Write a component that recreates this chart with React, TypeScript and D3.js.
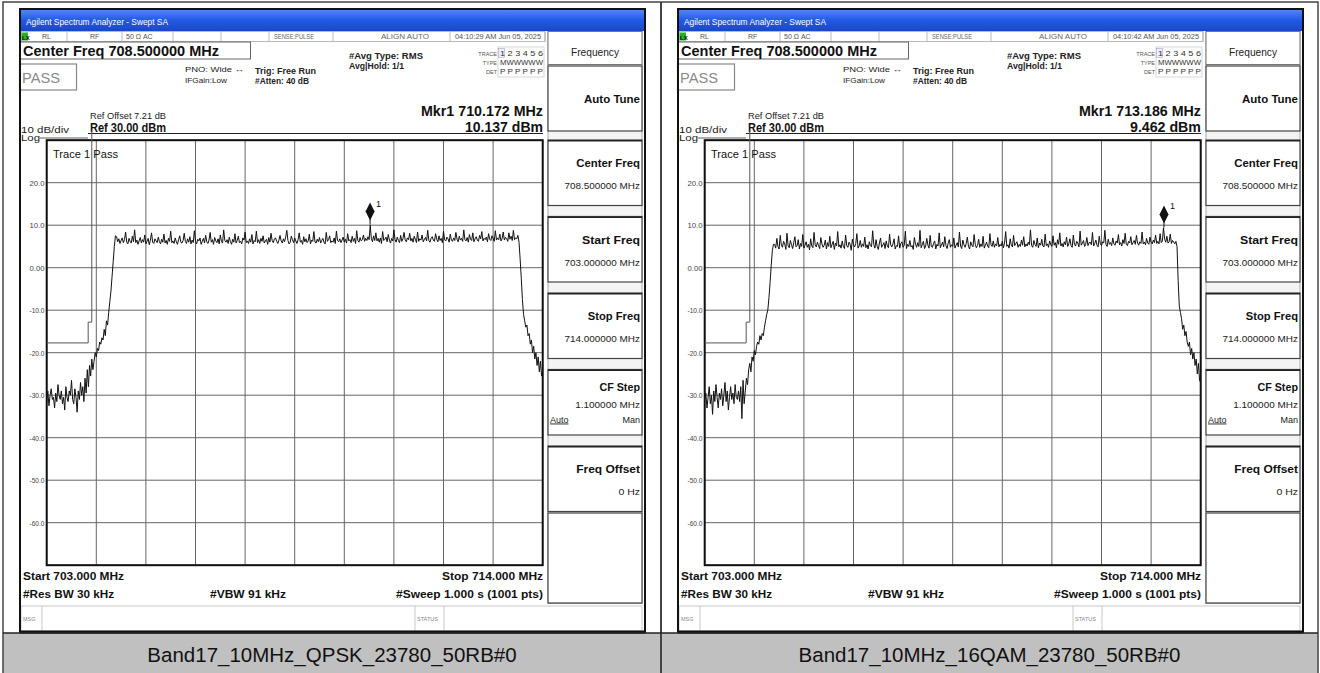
import React from "react";
import * as d3 from "d3";

const captions = ["Band17_10MHz_QPSK_23780_50RB#0", "Band17_10MHz_16QAM_23780_50RB#0"];
const timestamps = ["04:10:29 AM Jun 05, 2025", "04:10:42 AM Jun 05, 2025"];
const markerFreqLabels = ["Mkr1 710.172 MHz", "Mkr1 713.186 MHz"];
const markerLevelLabels = ["10.137 dBm", "9.462 dBm"];
const markerFreqs = [710.172, 713.186];
const markerLevels = [10.137, 9.462];
const startFreq = 703;
const stopFreq = 714;
const refLevel = 30;
const bottomLevel = -70;
const yTickValues = [20, 10, 0, -10, -20, -30, -40, -50, -60];
const yTickLabels = ["20.0", "10.0", "0.00", "-10.0", "-20.0", "-30.0", "-40.0", "-50.0", "-60.0"];
const limitFreqs = [703, 703.92, 703.92, 704.0, 704.0];
const limitLevels = [-17.7, -17.7, -12.8, -12.8, 32.2];
const softkeyLabels = ["Center Freq", "Start Freq", "Stop Freq", "CF Step", "Freq Offset"];
const softkeyValues = ["708.500000 MHz", "703.000000 MHz", "714.000000 MHz", "1.100000 MHz", "0 Hz"];

// QPSK trace, 441 sweep points (703.000 .. 714.000 MHz), dBm
const qpskTrace = [
  -31.5, -29.0, -32.5, -30.0, -28.5, -31.0, -30.5, -33.0, -29.5, -31.5, -27.5, -30.0, -31.0, -29.0, -32.0, -30.5, -33.5, -28.0,
  -30.5, -31.5, -29.0, -30.0, -26.5, -31.0, -32.0, -28.5, -30.5, -34.0, -29.0, -31.0, -27.0, -30.0, -28.0, -31.5, -26.0, -29.5,
  -24.0, -28.0, -23.0, -25.5, -21.5, -24.0, -22.0, -20.0, -21.0, -19.0, -19.5, -17.5, -18.0, -16.5, -17.0, -14.5, -16.0, -12.5,
  -13.5, -10.5, -8.0, -5.5, -2.0, 1.5, 5.0, 7.5,
  7.3, 6.1, 6.8, 5.7, 6.4, 7.0, 5.9, 6.6, 8.4, 6.0, 5.6, 6.9, 6.2, 5.8, 7.4, 6.1, 8.9, 5.9, 6.5, 5.5,
  6.3, 7.1, 5.8, 6.6, 6.0, 7.7, 5.6, 6.2, 6.9, 5.4, 6.5, 8.2, 6.0, 5.7, 6.8, 6.3, 5.9, 7.2, 6.1, 5.6,
  6.7, 6.0, 7.9, 5.8, 6.4, 5.5, 6.9, 6.2, 8.6, 5.9, 6.3, 5.7, 7.0, 6.1, 5.5, 6.6, 7.5, 6.0, 5.8, 6.4,
  8.1, 6.2, 5.7, 6.8, 6.0, 7.3, 5.6, 6.5, 5.9, 8.7, 6.1, 5.6, 6.7, 6.3, 7.0, 5.5, 6.2, 6.9, 5.8, 7.6,
  6.1, 5.7, 6.5, 8.3, 6.0, 6.6, 5.5, 7.1, 6.3, 5.9, 6.8, 5.6, 7.7, 6.2, 5.8, 8.9, 6.4, 6.0, 6.6, 5.7,
  7.2, 6.1, 5.5, 6.7, 6.0, 8.0, 5.8, 6.4, 7.4, 5.9, 6.2, 5.6, 7.0, 6.5, 8.4, 5.9, 6.3, 5.7, 6.8, 6.0,
  7.8, 5.6, 6.4, 6.1, 8.6, 5.9, 6.6, 5.7, 6.9, 6.2, 7.5, 5.8, 6.3, 6.7, 5.5, 7.1, 6.0, 8.1, 6.4, 5.9,
  6.8, 7.0, 6.2, 5.7, 6.5, 7.6, 6.3, 5.8, 6.8, 6.1, 7.2, 8.8, 6.4, 5.6, 6.0, 7.4, 6.6, 5.9, 7.0, 6.3,
  5.7, 6.6, 8.2, 6.0, 6.4, 5.5, 7.3, 6.1, 6.8, 5.9, 6.3, 7.9, 5.6, 6.5, 6.2, 8.5, 6.0, 5.8, 6.7, 6.1,
  7.1, 5.8, 6.4, 6.9, 6.0, 5.6, 8.3, 6.2, 6.6, 7.5, 5.9, 6.3, 6.0, 7.0, 5.7, 8.6, 6.4, 6.1, 6.8, 5.9,
  6.5, 7.2, 6.0, 6.7, 5.8, 8.0, 6.3, 6.6, 5.9, 7.4, 6.2, 6.9, 5.7, 8.7, 6.4, 6.0, 7.1, 6.3, 6.6, 7.7,
  6.2, 6.9, 6.4, 7.3, 6.6, 10.0, 6.8, 6.1, 7.5, 6.4, 8.2, 6.3, 6.9, 6.0, 7.0, 5.7, 8.5, 6.4, 6.7, 7.2,
  6.1, 7.8, 6.5, 5.8, 6.9, 6.3, 8.9, 6.6, 6.0, 7.2, 6.4, 5.9, 7.6, 6.2, 6.8, 8.3, 6.5, 6.1, 7.0, 6.6,
  8.1, 6.3, 6.9, 6.0, 7.4, 6.7, 5.9, 8.4, 6.2, 6.8, 6.5, 7.7, 6.1, 6.6, 7.1, 6.3, 8.8, 6.4, 6.0, 6.9,
  7.3, 6.5, 6.2, 8.0, 6.7, 6.1, 7.5, 6.4, 6.9, 5.9, 8.6, 6.6, 6.3, 7.2, 6.8, 6.0, 7.9, 6.5, 6.2, 7.0,
  6.4, 8.3, 6.7, 6.1, 7.4, 6.5, 6.9, 6.2, 8.9, 6.6, 6.3, 7.1, 6.0, 7.8, 6.7, 6.4, 8.2, 6.1, 6.8, 7.3,
  6.5, 6.2, 7.6, 6.8, 8.5, 6.3, 6.9, 6.6, 7.2, 6.1, 8.0, 6.7, 6.4, 7.5, 6.9, 6.2, 8.7, 6.5, 7.0, 6.6,
  7.9, 6.3, 6.8, 8.4, 6.5, 7.1, 6.9, 6.2, 8.2, 6.7, 7.4, 6.4, 8.8, 6.6, 7.0, 6.8, 7.6,
  6.0, 2.0, -2.5, -7.5, -11.0, -12.5, -14.0, -13.5, -16.0, -15.5, -18.0, -17.0, -20.0, -18.5, -21.5, -20.0,
  -23.0, -21.0, -24.5, -22.0, -25.5, -24.0,
];

// 16QAM trace, 441 sweep points (703.000 .. 714.000 MHz), dBm
const qam16Trace = [
  -31.0, -29.5, -33.0, -30.5, -28.0, -32.0, -30.0, -34.5, -29.0, -31.5, -27.5, -30.5, -33.0, -29.5, -31.0, -28.5, -32.5, -30.0,
  -27.0, -31.5, -29.0, -33.5, -30.5, -28.0, -31.0, -29.5, -32.0, -27.5, -30.5, -31.0, -29.0, -31.5, -28.0, -35.5, -26.5, -32.0,
  -29.0, -26.0, -27.5, -24.0, -22.5, -24.5, -21.0, -22.0, -19.5, -20.5, -18.5, -17.5, -18.0, -16.0, -17.0, -15.5, -16.0, -14.0,
  -12.5, -11.0, -10.0, -7.0, -3.5, 0.5, 4.0, 5.5,
  5.5, 4.6, 6.9, 5.0, 4.4, 7.6, 5.3, 4.8, 6.2, 5.6, 4.3, 8.1, 5.1, 4.7, 6.4, 5.4, 4.5, 5.9, 7.3, 4.9,
  5.2, 6.6, 4.4, 5.7, 5.0, 7.8, 4.6, 5.3, 6.1, 4.8, 5.5, 4.2, 6.8, 5.1, 4.7, 8.3, 5.4, 4.9, 6.0, 5.2,
  4.5, 7.1, 5.6, 4.8, 5.3, 6.5, 4.4, 5.9, 5.0, 7.4, 4.7, 5.5, 6.2, 4.3, 5.8, 5.1, 8.5, 4.9, 5.4, 4.6,
  6.3, 5.0, 4.5, 7.7, 5.2, 4.8, 6.0, 5.5, 4.1, 6.7, 5.3, 4.9, 5.7, 8.0, 4.6, 5.1, 6.4, 4.8, 5.6, 5.0,
  7.2, 4.7, 5.4, 4.4, 6.1, 5.2, 4.9, 8.7, 5.5, 4.6, 6.6, 5.0, 4.3, 5.8, 7.0, 4.8, 5.3, 5.9, 4.5, 6.3,
  5.1, 4.7, 7.9, 5.4, 4.9, 5.6, 6.8, 4.4, 5.2, 5.0, 7.5, 4.6, 5.7, 6.1, 4.8, 5.3, 8.6, 4.5, 5.5, 5.0,
  6.4, 4.9, 5.2, 4.3, 7.1, 5.6, 4.8, 5.9, 5.0, 8.8, 4.7, 5.4, 6.2, 4.5, 5.1, 6.9, 5.3, 4.6, 7.6, 5.0,
  4.8, 5.7, 6.3, 4.4, 5.5, 5.1, 8.2, 4.7, 5.3, 6.0, 4.9, 7.3, 5.2, 4.5, 5.8, 6.6, 4.8, 5.4, 5.0, 7.0,
  4.6, 5.3, 5.9, 4.9, 8.4, 5.1, 4.5, 6.5, 5.4, 4.8, 5.7, 7.2, 5.0, 4.4, 6.1, 5.3, 4.9, 7.8, 5.5, 4.7,
  5.2, 6.7, 4.8, 5.6, 5.0, 7.4, 4.6, 5.3, 6.0, 5.1, 4.7, 8.0, 5.4, 5.0, 6.3, 4.8, 5.6, 5.2, 7.1, 4.9,
  5.5, 5.1, 6.2, 4.7, 5.8, 8.5, 5.0, 5.4, 4.6, 6.8, 5.3, 4.9, 7.6, 5.2, 5.7, 6.1, 4.8, 5.5, 5.0, 6.5,
  5.3, 7.3, 4.9, 5.6, 5.1, 6.0, 5.4, 8.9, 5.2, 4.8, 6.4, 5.5, 5.0, 7.0, 4.7, 5.8, 5.3, 6.7, 5.1, 4.9,
  7.9, 5.2, 5.6, 4.8, 6.3, 5.4, 5.0, 7.5, 5.3, 5.9, 4.7, 6.6, 5.5, 8.2, 5.1, 5.7, 4.9, 6.1, 5.4, 7.2,
  5.0, 5.6, 6.8, 5.2, 4.8, 7.7, 5.5, 5.1, 6.2, 5.8, 4.9, 8.6, 5.3, 5.7, 6.4, 5.0, 5.5, 7.1, 5.2, 5.9,
  6.0, 5.4, 8.3, 5.1, 5.7, 6.5, 5.3, 4.9, 7.4, 5.6, 5.2, 6.1, 5.8, 8.8, 5.4, 5.0, 6.7, 5.5, 5.9, 5.2,
  7.0, 5.6, 5.3, 6.3, 5.8, 7.8, 5.4, 5.9, 5.1, 6.6, 5.7, 8.1, 5.5, 5.2, 6.2, 5.8, 7.3, 5.4, 5.9, 6.4,
  5.5, 7.6, 5.8, 5.3, 6.1, 5.7, 8.4, 5.6, 6.0, 5.4, 6.9, 5.8, 5.5, 7.2, 6.0, 5.6, 6.5, 5.9, 7.7, 5.7,
  6.2, 5.6, 8.0, 5.9, 6.3, 9.4, 6.7, 6.0, 7.4, 5.8, 6.1, 7.9, 5.7, 6.4, 6.0, 5.6, 6.2,
  5.0, -3.0, -9.0, -10.5, -12.0, -14.5, -13.5, -16.0, -15.0, -17.5, -18.5, -17.5, -20.5, -19.0, -21.5, -20.0,
  -23.0, -21.5, -25.0, -22.5, -26.5, -27.0,
];

const traces = [qpskTrace, qam16Trace];

const FONT = "'Liberation Sans Narrow', 'Liberation Sans', Arial, sans-serif";
const CAPFONT = "'Liberation Sans', Arial, sans-serif";

function Panel({ ox, idx }: { ox: number; idx: number }) {
  const trace = traces[idx];
  const pl = 26.7, pr = 522.7, pt = 131.2, pb = 556.2;
  const x = d3.scaleLinear().domain([startFreq, stopFreq]).range([pl, pr]);
  const y = d3.scaleLinear().domain([bottomLevel, refLevel]).range([pb, pt]);
  const n = trace.length;
  const fAt = (k: number) => startFreq + (k * (stopFreq - startFreq)) / (n - 1);
  const tracePath = d3.line<number>().x((_d, k) => x(fAt(k))).y((d) => y(d))(trace) || "";
  const limitPath = d3.line<number>().x((_d, k) => x(limitFreqs[k])).y((d) => y(d))(limitLevels) || "";
  const xGrid = d3.range(0, 11).map((k) => startFreq + (k * (stopFreq - startFreq)) / 10);
  const yGrid = d3.range(bottomLevel, refLevel + 1, 10);
  const mx = x(markerFreqs[idx]);
  const my = y(markerLevels[idx]);
  const gid = `tb${idx}`;
  const statusDividers = [47, 102, 153, 201, 249, 313, 430, 525];
  const keyTop = (k: number) => 131 + k * 76.5;

  return (
    <g transform={`translate(${ox},9)`} fontFamily={FONT}>
      <defs>
        <linearGradient id={gid} x1="0" y1="0" x2="0" y2="1">
          <stop offset="0" stopColor="#4f86f7" />
          <stop offset="0.5" stopColor="#2258e6" />
          <stop offset="1" stopColor="#1a47c9" />
        </linearGradient>
      </defs>
      <rect x={0} y={0} width={625} height={623} fill="#fff" />
      <rect x={1} y={1} width={623} height={21} fill={`url(#${gid})`} />
      <text x={6} y={15.5} fill="#fff" fontSize={9.5} textLength={142} lengthAdjust="spacingAndGlyphs">
        Agilent Spectrum Analyzer - Swept SA
      </text>

      {/* status row */}
      <rect x={1} y={22.5} width={524} height={10} fill="#fff" stroke="#aaa" strokeWidth={0.8} />
      <rect x={1.5} y={23.5} width={6.5} height={8} fill="#22b222" />
      <text x={2} y={30.5} fontSize={6} fill="#111" fontWeight="bold">LX</text>
      {statusDividers.map((d) => (
        <line key={d} x1={d} x2={d} y1={22.5} y2={32.5} stroke="#aaa" strokeWidth={0.8} />
      ))}
      <text x={22} y={30} fontSize={7} fill="#555">RL</text>
      <text x={70} y={30} fontSize={7} fill="#555">RF</text>
      <text x={106} y={30} fontSize={7} fill="#555">50 Ω   AC</text>
      <text x={254} y={30} fontSize={6.5} fill="#666" textLength={40} lengthAdjust="spacingAndGlyphs">SENSE:PULSE</text>
      <text x={361} y={30} fontSize={6.5} fill="#666" textLength={48} lengthAdjust="spacingAndGlyphs">ALIGN AUTO</text>
      <text x={435} y={30} fontSize={6.5} fill="#555" textLength={86} lengthAdjust="spacingAndGlyphs">{timestamps[idx]}</text>

      {/* info area */}
      <rect x={-0.5} y={33} width={231} height={17} fill="#fff" stroke="#666" strokeWidth={1} />
      <text x={3} y={46.5} fontSize={14} fontWeight="bold" fill="#111" textLength={196} lengthAdjust="spacingAndGlyphs">
        Center Freq 708.500000 MHz
      </text>
      <rect x={-0.5} y={55} width={57} height={26} fill="#fff" stroke="#888" strokeWidth={1.2} />
      <text x={2} y={74} fontSize={14} fill="#8a8a8a" textLength={38} lengthAdjust="spacingAndGlyphs">PASS</text>
      <text x={165} y={62.5} fontSize={8} fill="#222" textLength={59} lengthAdjust="spacingAndGlyphs">PNO: Wide ↔</text>
      <text x={165} y={74} fontSize={8} fill="#222" textLength={42} lengthAdjust="spacingAndGlyphs">IFGain:Low</text>
      <text x={235} y={64.5} fontSize={9} fontWeight="bold" fill="#222" textLength={61} lengthAdjust="spacingAndGlyphs">Trig: Free Run</text>
      <text x={235} y={74.5} fontSize={8.5} fontWeight="bold" fill="#222" textLength={54} lengthAdjust="spacingAndGlyphs">#Atten: 40 dB</text>
      <text x={329} y={49.5} fontSize={9} fontWeight="bold" fill="#222" textLength={74} lengthAdjust="spacingAndGlyphs">#Avg Type: RMS</text>
      <text x={329} y={59.5} fontSize={8.5} fontWeight="bold" fill="#222" textLength={55} lengthAdjust="spacingAndGlyphs">Avg|Hold: 1/1</text>
      <rect x={478} y={38} width={46} height={30} fill="none" stroke="#ccc" strokeWidth={0.8} />
      <text x={477} y={47} fontSize={5.5} fill="#555" textAnchor="end">TRACE</text>
      <text x={477} y={56} fontSize={5.5} fill="#555" textAnchor="end">TYPE</text>
      <text x={477} y={65} fontSize={5.5} fill="#555" textAnchor="end">DET</text>
      <rect x={478.5} y={39.5} width={6} height={9} fill="#eef" stroke="#99a" strokeWidth={0.5} />
      <text x={480} y={47} fontSize={8} fill="#333" textLength={43} lengthAdjust="spacingAndGlyphs">1 2 3 4 5 6</text>
      <text x={480} y={56} fontSize={7} fill="#333" textLength={43} lengthAdjust="spacingAndGlyphs">MWWWWW</text>
      <text x={480} y={65} fontSize={7.5} fill="#333" textLength={43} lengthAdjust="spacingAndGlyphs">P P P P P P</text>

      <text x={523} y={106.5} fontSize={15} fontWeight="bold" fill="#111" textAnchor="end" textLength={122} lengthAdjust="spacingAndGlyphs">
        {markerFreqLabels[idx]}
      </text>
      <text x={523} y={122.5} fontSize={15} fontWeight="bold" fill="#111" textAnchor="end" textLength={idx === 0 ? 78 : 71} lengthAdjust="spacingAndGlyphs">
        {markerLevelLabels[idx]}
      </text>
      <text x={70} y={109.5} fontSize={9} fill="#222" textLength={76} lengthAdjust="spacingAndGlyphs">Ref Offset 7.21 dB</text>
      <text x={1} y={123.5} fontSize={9} fill="#222" textLength={48} lengthAdjust="spacingAndGlyphs">10 dB/div</text>
      <text x={70} y={123} fontSize={12.5} fontWeight="bold" fill="#111" textLength={76} lengthAdjust="spacingAndGlyphs">Ref 30.00 dBm</text>
      <line x1={68} x2={523} y1={124.5} y2={124.5} stroke="#222" strokeWidth={1} />
      <text x={1} y={132} fontSize={9} fill="#222" textLength={19} lengthAdjust="spacingAndGlyphs">Log</text>
      <line x1={20} x2={68} y1={129} y2={129} stroke="#333" strokeWidth={0.8} />

      {/* plot grid */}
      {xGrid.map((f, k) => (
        <line key={`x${k}`} x1={x(f)} x2={x(f)} y1={pt} y2={pb} stroke="#666" strokeWidth={1} />
      ))}
      {yGrid.map((v) => (
        <line key={`y${v}`} x1={pl} x2={pr} y1={y(v)} y2={y(v)} stroke="#666" strokeWidth={1} />
      ))}
      <rect x={pl} y={pt} width={pr - pl} height={pb - pt} fill="none" stroke="#111" strokeWidth={2} />
      {yTickValues.map((v, k) => (
        <text key={v} x={24.5} y={y(v) + 3} fontSize={8} fill="#444" textAnchor="end" textLength={15} lengthAdjust="spacingAndGlyphs">
          {yTickLabels[k]}
        </text>
      ))}
      <text x={33} y={148.5} fontSize={10.5} fill="#111" textLength={65} lengthAdjust="spacingAndGlyphs">Trace 1 Pass</text>

      {/* limit line and trace */}
      <path d={limitPath} fill="none" stroke="#555" strokeWidth={1} />
      <path d={tracePath} fill="none" stroke="#111" strokeWidth={1} strokeLinejoin="round" />

      {/* marker */}
      <line x1={mx} x2={mx} y1={my - 6} y2={my} stroke="#111" strokeWidth={1} />
      <path d={`M${mx},${my - 22} L${mx + 4.5},${my - 13} L${mx},${my - 4} L${mx - 4.5},${my - 13} Z`} fill="#111" />
      <text x={mx + 6} y={my - 18} fontSize={9} fill="#111">1</text>

      {/* bottom annotations */}
      <text x={3} y={571} fontSize={11} fontWeight="bold" fill="#111" textLength={101} lengthAdjust="spacingAndGlyphs">Start 703.000 MHz</text>
      <text x={3} y={589} fontSize={11} fontWeight="bold" fill="#111" textLength={91} lengthAdjust="spacingAndGlyphs">#Res BW 30 kHz</text>
      <text x={190} y={589} fontSize={11} fontWeight="bold" fill="#111" textLength={76} lengthAdjust="spacingAndGlyphs">#VBW 91 kHz</text>
      <text x={523} y={571} fontSize={11} fontWeight="bold" fill="#111" textAnchor="end" textLength={101} lengthAdjust="spacingAndGlyphs">Stop 714.000 MHz</text>
      <text x={523} y={589} fontSize={11} fontWeight="bold" fill="#111" textAnchor="end" textLength={147} lengthAdjust="spacingAndGlyphs">#Sweep  1.000 s (1001 pts)</text>

      {/* message bar */}
      <rect x={1} y={597} width={621} height={25} fill="#fff" stroke="#bbb" strokeWidth={0.8} />
      <line x1={22} x2={22} y1={597} y2={622} stroke="#bbb" strokeWidth={0.8} />
      <line x1={395} x2={395} y1={597} y2={622} stroke="#bbb" strokeWidth={0.8} />
      <line x1={424} x2={424} y1={597} y2={622} stroke="#bbb" strokeWidth={0.8} />
      <text x={3} y={612} fontSize={5.5} fill="#888">MSG</text>
      <text x={397} y={612} fontSize={5.5} fill="#888">STATUS</text>

      {/* soft keys */}
      <rect x={528} y={22.5} width={94} height={572} fill="#f4f4f4" stroke="#999" strokeWidth={0.8} />
      <rect x={528} y={22.5} width={94} height={33} fill="#fff" stroke="#777" strokeWidth={1} />
      <text x={575} y={47} fontSize={10.5} fill="#222" textAnchor="middle" textLength={48} lengthAdjust="spacingAndGlyphs">Frequency</text>
      <rect x={528} y={57} width={94} height={65} fill="#fff" stroke="#444" strokeWidth={1.2} />
      <text x={620} y={94} fontSize={11.5} fontWeight="bold" fill="#111" textAnchor="end" textLength={56} lengthAdjust="spacingAndGlyphs">Auto Tune</text>
      {softkeyLabels.map((lab, k) => (
        <g key={lab}>
          <rect x={528} y={keyTop(k)} width={94} height={65.5} fill="#fff" stroke="#444" strokeWidth={1.2} />
          <line x1={528} x2={622} y1={keyTop(k) + 0.8} y2={keyTop(k) + 0.8} stroke="#222" strokeWidth={1.6} />
          <text x={620} y={keyTop(k) + (k === 3 ? 21 : 27)} fontSize={11.5} fontWeight="bold" fill="#111" textAnchor="end"
            textLength={lab.length * 5.8} lengthAdjust="spacingAndGlyphs">
            {lab}
          </text>
          <text x={620} y={keyTop(k) + (k === 3 ? 38 : 49)} fontSize={9} fill="#222" textAnchor="end"
            textLength={softkeyValues[k].length * 5.4} lengthAdjust="spacingAndGlyphs">
            {softkeyValues[k]}
          </text>
        </g>
      ))}
      <text x={530} y={keyTop(3) + 53} fontSize={9} fill="#222" textDecoration="underline">Auto</text>
      <text x={620} y={keyTop(3) + 53} fontSize={9} fill="#222" textAnchor="end">Man</text>
      <rect x={528} y={504} width={94} height={90} fill="#fff" stroke="#444" strokeWidth={1.2} />

      {/* screenshot outer frame */}
      <rect x={0} y={0} width={625} height={623} fill="none" stroke="#111" strokeWidth={2} />
      <line x1={0} x2={625} y1={623} y2={623} stroke="#111" strokeWidth={3} />
    </g>
  );
}

export default function App() {
  return (
    <svg width={1320} height={673} style={{ position: "absolute", left: 0, top: 0, background: "#fff" }}>
      <rect x={0} y={0} width={1320} height={673} fill="#fff" />
      <rect x={3} y={633} width={1315} height={45} fill="#c0c0c0" />
      <Panel ox={20} idx={0} />
      <Panel ox={678} idx={1} />
      <rect x={3} y={2} width={1315} height={680} fill="none" stroke="#444" strokeWidth={1.5} />
      <line x1={661} x2={661} y1={2} y2={673} stroke="#444" strokeWidth={2} />
      <line x1={3} x2={1318} y1={633} y2={633} stroke="#222" strokeWidth={1.5} />
      <text x={332} y={662} fontFamily={CAPFONT} fontSize={20.5} fill="#111" textAnchor="middle">{captions[0]}</text>
      <text x={989.5} y={662} fontFamily={CAPFONT} fontSize={20.5} fill="#111" textAnchor="middle">{captions[1]}</text>
    </svg>
  );
}
